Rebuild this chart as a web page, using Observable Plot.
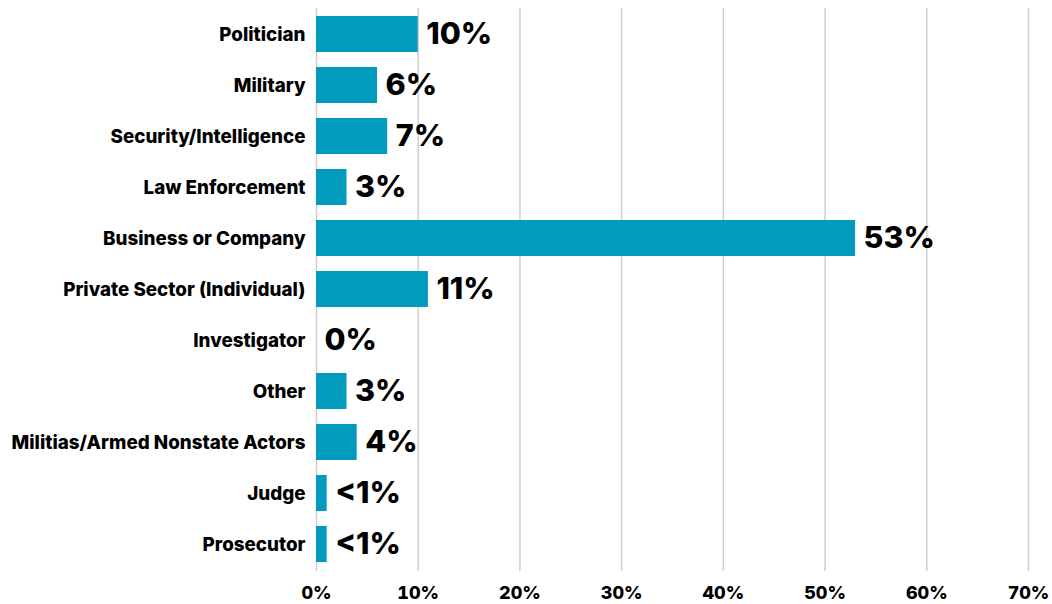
<!DOCTYPE html>
<html>
<head>
<meta charset="utf-8">
<script src="https://cdn.jsdelivr.net/npm/d3@7"></script>
<script src="https://cdn.jsdelivr.net/npm/@observablehq/plot@0.6"></script>
<style>
  html, body { margin: 0; padding: 0; background: #fff; }
  #chart svg { display: block; }
</style>
</head>
<body>
<div id="chart"></div>
<script>
const categories = ["Politician", "Military", "Security/Intelligence", "Law Enforcement", "Business or Company", "Private Sector (Individual)", "Investigator", "Other", "Militias/Armed Nonstate Actors", "Judge", "Prosecutor"];
const values = [10, 6, 7, 3, 53, 11, 0, 3, 4, 1.05, 1.05];
const valueLabels = ["10%", "6%", "7%", "3%", "53%", "11%", "0%", "3%", "4%", "<1%", "<1%"];
const xTicks = [0, 10, 20, 30, 40, 50, 60, 70];
const xTickLabels = ["0%", "10%", "20%", "30%", "40%", "50%", "60%", "70%"];

const data = categories.map((c, i) => ({category: c, value: values[i], label: valueLabels[i]}));

const chart = Plot.plot({
  width: 1052,
  height: 604,
  marginLeft: 316,
  marginRight: 24,
  marginTop: 8,
  marginBottom: 33,
  style: {fontFamily: "Inter, 'Liberation Sans', sans-serif", color: "#000", background: "#fff"},
  x: {domain: [0, 70], ticks: xTicks},
  y: {domain: categories, paddingInner: 0.286, paddingOuter: 0.156, align: 0.5},
  marks: [
    Plot.ruleX(xTicks, {stroke: "#cfcfcf", strokeWidth: 1.5}),
    Plot.barX(data, {y: "category", x: "value", fill: "#029abd"}),
    Plot.text(data, {y: "category", x: "value", text: "label", textAnchor: "start", dx: 8, fontSize: 30.5, fontWeight: 800, fill: "#000"}),
    Plot.axisY({tickSize: 0, tickPadding: 11, fontSize: 18.8, fontWeight: 800, fill: "#000", label: null}),
    Plot.axisX({ticks: xTicks, tickFormat: (d) => xTickLabels[xTicks.indexOf(d)], tickSize: 0, tickPadding: 15, fontSize: 18, fontWeight: 800, fill: "#000", label: null})
  ]
});
document.getElementById("chart").appendChild(chart);
</script>
</body>
</html>
